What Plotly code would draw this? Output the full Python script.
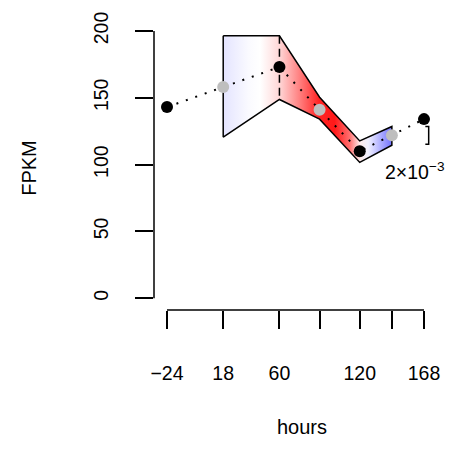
import plotly.graph_objects as go

# ---- data ----
hours = [-24, 18, 60, 90, 120, 144, 168]
fpkm = [143, 158, 173, 141, 110, 122, 134]
point_kind = ["obs", "fit", "obs", "fit", "obs", "fit", "obs"]

band_x = [18, 60, 90, 120, 144]
band_upper = [196.3, 196.3, 150.4, 117.7, 128.5]
band_lower = [120.6, 148.7, 134.0, 101.6, 114.5]

label_ticks = [-24, 18, 60, 120, 168]
label_text = ["\u221224", "18", "60", "120", "168"]
unlabelled_ticks = [90, 144]
y_ticks = [0, 50, 100, 150, 200]
scale_bar = [115.2, 128.5]
scale_label = "2\u00d710<sup>\u22123</sup>"

FONT = "Liberation Sans, Arial, Helvetica, sans-serif"
FS = 17
TFS = 19.5
XR = [-33.71, 187.43]

fig = go.Figure()

# band polygon with horizontal gradient
poly_x = band_x + band_x[::-1] + [band_x[0]]
poly_y = band_upper + band_lower[::-1] + [band_upper[0]]
fig.add_trace(go.Scatter(
    x=poly_x, y=poly_y, mode="lines", fill="toself",
    line=dict(color="black", width=1.5),
    fillgradient=dict(
        type="horizontal", start=band_x[0], stop=band_x[-1],
        colorscale=[
            [0.0, "rgb(228,228,255)"],
            [0.15, "rgb(250,250,255)"],
            [0.22, "rgb(255,255,255)"],
            [0.333, "rgb(255,215,215)"],
            [0.45, "rgb(255,130,130)"],
            [0.57, "rgb(255,35,35)"],
            [0.66, "rgb(255,25,25)"],
            [0.75, "rgb(255,110,110)"],
            [0.81, "rgb(255,235,235)"],
            [0.86, "rgb(240,240,255)"],
            [1.0, "rgb(115,115,255)"],
        ]),
    hoverinfo="skip", showlegend=False))

# dashed vertical at x=60
fig.add_trace(go.Scatter(
    x=[band_x[1], band_x[1]], y=[band_upper[1], band_lower[1]], mode="lines",
    line=dict(color="black", width=1.5, dash="8px,5px"),
    hoverinfo="skip", showlegend=False))

# dotted connecting line
fig.add_trace(go.Scatter(
    x=hours, y=fpkm, mode="lines",
    line=dict(color="black", width=2, dash="2px,8px"),
    hoverinfo="skip", showlegend=False))

# points
colors = ["black" if k == "obs" else "#bebebe" for k in point_kind]
fig.add_trace(go.Scatter(
    x=hours, y=fpkm, mode="markers",
    marker=dict(color=colors, size=12, line=dict(width=0)),
    showlegend=False))

# axis lines (R-style, spanning first to last tick)
fig.add_shape(type="line", xref="x", yref="paper", x0=label_ticks[0], x1=label_ticks[-1],
              y0=0, y1=0, line=dict(color="black", width=1.5))
fig.add_shape(type="line", xref="paper", yref="y", x0=0, x1=0,
              y0=y_ticks[0], y1=y_ticks[-1], line=dict(color="black", width=1.5))

# scale bracket
bx = 171.5
fig.add_shape(type="path", xref="x", yref="y",
              path=f"M {bx-2.5},{scale_bar[1]} L {bx},{scale_bar[1]} L {bx},{scale_bar[0]} L {bx-2.5},{scale_bar[0]}",
              line=dict(color="black", width=1.5))
fig.add_annotation(x=161, y=scale_bar[0] - 9.5, xref="x", yref="y", text=scale_label,
                   showarrow=False, xanchor="center", yanchor="top",
                   font=dict(family=FONT, size=TFS, color="black"))

W = H = 462
l, r, t, b = 154, 12, 20, 152
tick_common = dict(ticks="outside", ticklen=18, tickwidth=1.5, tickcolor="black",
                   showline=False, showgrid=False, zeroline=False,
                   tickfont=dict(family=FONT, size=TFS, color="black"))
fig.update_layout(
    width=W, height=H, margin=dict(l=l, r=r, t=t, b=b),
    paper_bgcolor="white", plot_bgcolor="white",
    font=dict(family=FONT, size=FS, color="black"),
    xaxis=dict(range=XR, tickvals=label_ticks, ticktext=label_text,
               ticklabelstandoff=28,
               minor=dict(tickvals=unlabelled_ticks, ticks="outside", ticklen=18,
                          tickwidth=1.5, tickcolor="black", showgrid=False),
               title=dict(text="hours", standoff=36), **tick_common),
    yaxis=dict(range=[-8.79, 203.66], tickvals=y_ticks,
               tickangle=-90, ticklabelstandoff=19,
               title=dict(text="FPKM", standoff=48), **tick_common),
)

fig.write_html("out.html")
